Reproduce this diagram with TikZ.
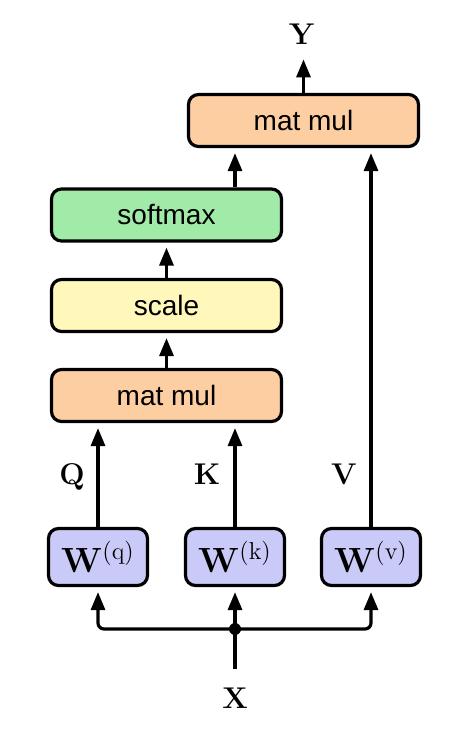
\documentclass[tikz,border=0pt]{standalone}
\usepackage{fix-cm}
\usepackage[no-math]{fontspec}
\newfontfamily\helv{Liberation Sans}
\usetikzlibrary{arrows.meta}
\definecolor{peach}{RGB}{253,206,162}
\definecolor{mint}{RGB}{160,235,168}
\definecolor{lemon}{RGB}{255,248,186}
\definecolor{lav}{RGB}{202,202,248}
\begin{document}
\begin{tikzpicture}[x=0.5pt,y=-0.5pt,
  box/.style={draw=black, line width=1.6pt, rounded corners=5pt, minimum width=115pt, minimum height=26pt, inner sep=0pt, font=\helv\fontsize{14}{16}\selectfont},
  wbox/.style={draw=black, line width=1.6pt, rounded corners=5pt, fill=lav, minimum width=49.5pt, minimum height=28.5pt, inner sep=0pt, font=\fontsize{17.5}{20}\selectfont},
  lab/.style={font=\fontsize{15}{17}\selectfont, inner sep=0pt, anchor=base},
  arr/.style={line width=1.6pt, -{Triangle[length=9pt,width=7pt]}, shorten >=2.5pt}]
\useasboundingbox (0,0) rectangle (461,732);
\node[box, fill=peach] (topmm) at (303.5,120.5) {mat mul};
\node[box, fill=mint] (soft) at (166.5,215) {softmax};
\node[box, fill=lemon] (scale) at (166.5,305.5) {scale};
\node[box, fill=peach] (mm) at (166.5,395.5) {mat mul};
\node[wbox] (wq) at (98,557) {$\mathbf{W}^{(\mathrm{q})}$};
\node[wbox] (wk) at (235,557) {$\mathbf{W}^{(\mathrm{k})}$};
\node[wbox] (wv) at (371,557) {$\mathbf{W}^{(\mathrm{v})}$};
\node[lab] (Q) at (72,484) {$\mathbf{Q}$};
\node[lab] (K) at (207,484) {$\mathbf{K}$};
\node[lab] (V) at (344,484) {$\mathbf{V}$};
\node[lab] (Y) at (302,45) {$\mathbf{Y}$};
\node[lab] (X) at (235,708) {$\mathbf{X}$};
\coordinate (j) at (235,629);
\draw[arr] (topmm.north) -- (topmm.north |- Y.south) [shorten >=7pt];
\draw[arr] (soft.north -| wk) -- (topmm.south -| wk);
\draw[arr] (scale.north) -- (soft.south);
\draw[arr] (mm.north) -- (scale.south);
\draw[arr] (wq.north) -- (mm.south -| wq);
\draw[arr] (wk.north) -- (mm.south -| wk);
\draw[arr] (wv.north) -- (topmm.south -| wv);
\draw[arr, shorten <=9pt] (X.north) -- (wk.south);
\draw[arr, rounded corners=3pt] (j) -| (wq.south);
\draw[arr, rounded corners=3pt] (j) -| (wv.south);
\fill (j) circle (3pt);
\end{tikzpicture}
\end{document}
